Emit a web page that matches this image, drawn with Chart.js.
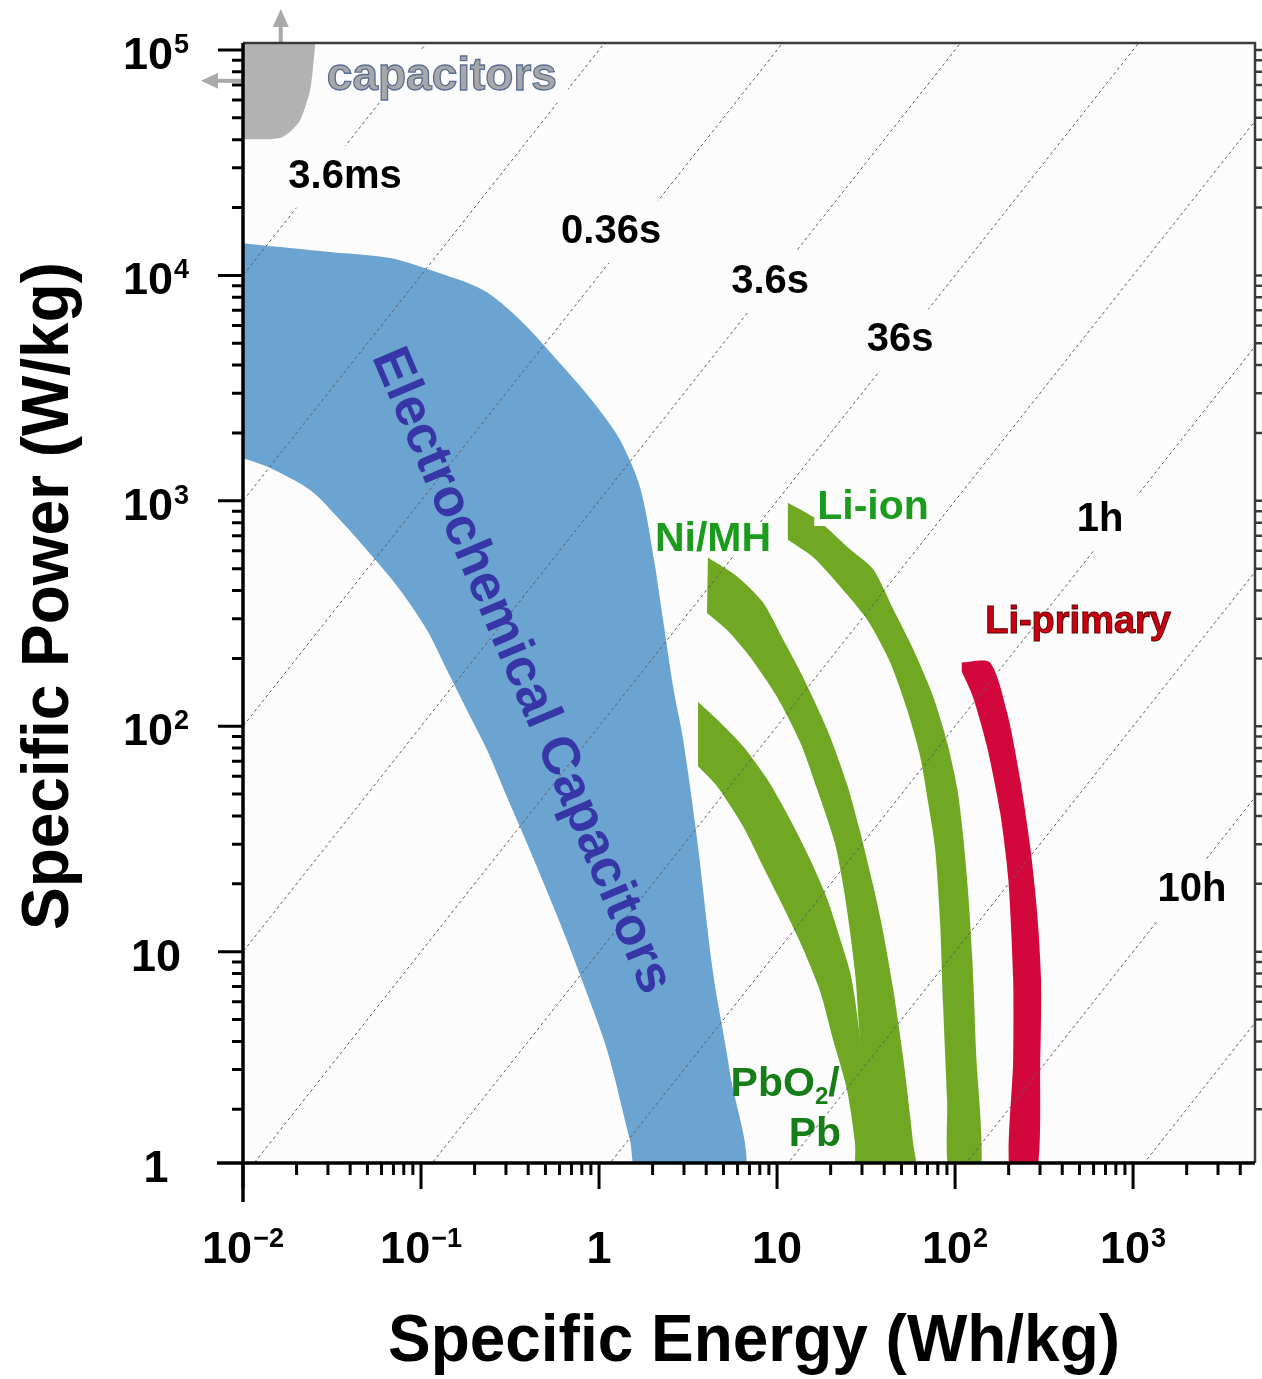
<!DOCTYPE html>
<html>
<head>
<meta charset="utf-8">
<script src="https://cdn.jsdelivr.net/npm/chart.js@4.4.1/dist/chart.umd.min.js"></script>
<style>
html,body{margin:0;padding:0;background:#ffffff;}
#wrap{width:1262px;height:1379px;position:relative;}
</style>
</head>
<body>
<div id="wrap"><canvas id="c"></canvas></div>
<script>
// ---------- axis ranges and ticks ----------
const xMin = 0.01, xMax = 4840;
const yMin = 1.155, yMax = 107400;
const xTickValues = [0.01, 0.1, 1, 10, 100, 1000];
const xTickBase   = ['10', '10', '1', '10', '10', '10'];
const xTickExp    = ['\u22122', '\u22121', '', '', '2', '3'];
const yTickValues = [1, 10, 100, 1000, 10000, 100000];
const yTickBase   = ['1', '10', '10', '10', '10', '10'];
const yTickExp    = ['', '', '2', '3', '4', '5'];
const xTitle = 'Specific Energy (Wh/kg)';
const yTitle = 'Specific Power (W/kg)';

// ---------- constant discharge-time lines (hours) ----------
const timeLinesHours = [1e-6, 1e-5, 1e-4, 1e-3, 1e-2, 1e-1, 1, 10, 100, 1000];
const durationLabels = ['3.6ms', '0.36s', '3.6s', '36s', '1h', '10h'];
const durationLabelE = [0.0374, 1.17, 9.14, 49.1, 653, 2140];
const durationLabelP = [27400, 15600, 9350, 5160, 822, 18.8];

// ---------- regions (outline points: specific energy Wh/kg, specific power W/kg) ----------
const capE = [0.01, 0.0247, 0.0247, 0.0238, 0.0223, 0.0209, 0.0188, 0.0166, 0.0142, 0.01];
const capP = [120000, 120000, 83000, 66000, 55500, 48700, 44000, 41000, 40200, 40200];

const ecE = [0.01, 0.0161, 0.0308, 0.067, 0.1125, 0.223, 0.36, 0.628, 0.975, 1.312, 1.698, 2.009, 2.29, 2.61, 2.97, 3.56, 4.37, 5.44, 6.36,
             1.70, 1.49, 1.11, 0.813, 0.604, 0.409, 0.304, 0.235, 0.181, 0.140, 0.108, 0.0762, 0.0537, 0.0351, 0.0238, 0.0142, 0.01];
const ecP = [13900, 13370, 12700, 11940, 10570, 8610, 6340, 3930, 2610, 1860, 1151, 586, 296, 149, 86.9, 31.3, 8.04, 2.89, 1.0,
             1.0, 1.46, 3.66, 7.26, 13.4, 28.2, 48.5, 78.4, 118, 177, 267, 402, 563, 822, 1117, 1400, 1549];

const nimhE = [4.09, 5.96, 8.34, 10.8, 14.0, 19.1, 24.7, 29.2, 34.6, 39.4, 44.9, 51.0, 58.1, 59.6,
               33.3, 31.2, 29.2, 27.4, 24.1, 21.2, 16.8, 13.5, 10.0, 7.05, 5.24, 4.04];
const nimhP = [560, 462, 354, 243, 165, 97, 55.5, 34.4, 19.8, 12.3, 6.84, 3.43, 1.42, 1.0,
               1.0, 2.21, 4.09, 8.15, 17.5, 30.0, 52.5, 84.8, 135, 203, 267, 318];

const pbE = [3.60, 4.79, 6.44, 8.79, 11.8, 15.3, 19.1, 22.6, 25.7, 27.4, 31.2, 35.6,
             28.1, 27.4, 24.7, 20.6, 17.5, 14.0, 10.8, 8.34, 6.44, 4.60, 3.60];
const pbP = [128, 104, 81.5, 58.3, 38.8, 25.8, 17.2, 11.4, 8.15, 6.17, 2.71, 1.0,
             1.0, 1.42, 2.45, 4.09, 6.63, 10.3, 15.9, 23.9, 36.0, 54.2, 66.4];

const liionE = [11.5, 16.8, 25.7, 34.6, 44.9, 58.1, 75.2, 90.2, 103, 111, 118, 125, 131, 138,
                93.8, 90.2, 85.7, 82.4, 77.3, 70.5, 63.6, 53.7, 43.2, 32.1, 22.6, 15.9, 11.5];
const liionP = [980, 825, 610, 498, 331, 220, 136, 85.0, 52.6, 32.6, 19.0, 9.31, 3.69, 1.0,
                1.0, 2.21, 5.74, 13.5, 28.5, 46.1, 73.8, 119, 192, 297, 417, 563, 672];

const liprimE = [109, 157, 196, 232, 264, 289, 304, 301, 285, 204, 212, 212, 199, 179, 151, 126, 109];
const liprimP = [192, 192, 115, 58.3, 29.4, 15.0, 7.57, 3.33, 1.0, 1.0, 3.33, 7.57, 21.0, 41.6, 81.5, 135, 175];

// ---------- region labels ----------
const capLabel = 'capacitors';       const capLabelE = 0.131;  const capLabelP = 75900;
const capArrowE = 0.0163;            const capArrowP = 73000;
const ecLabel = 'Electrochemical Capacitors'; const ecLabelE = 0.365; const ecLabelP = 176;
const nimhLabel = 'Ni/MH';           const nimhLabelE = 4.37;  const nimhLabelP = 670;
const liionLabel = 'Li-ion';         const liionLabelE = 34.6; const liionLabelP = 929;
const liprimLabel = 'Li-primary';    const liprimLabelE = 491; const liprimLabelP = 290;
const pbLabel1E = 11.1, pbLabel1P = 2.56;
const pbLabel2 = 'Pb';               const pbLabel2E = 16.3;   const pbLabel2P = 1.54;

// ---------- styles ----------
const FONT = '"Liberation Sans", Arial, Helvetica, sans-serif';
const PLOT_BG = '#fcfcfc';
const COL_CAP = '#b3b3b3', COL_EC = '#6ba4d1', COL_GREEN = '#70a823', COL_RED = '#d2083c';

function pts(E, P) { return E.map((e, i) => ({x: e, y: P[i]})); }
function region(E, P, color, tension) {
  return {data: pts(E, P), backgroundColor: color, borderColor: 'transparent', borderWidth: 0,
          pointRadius: 0, fill: 'shape', tension: tension, order: 1};
}

const datasets = [];
timeLinesHours.forEach(t => {
  datasets.push({data: [{x: 1e-3, y: 1e-3 / t}, {x: 1e4, y: 1e4 / t}], borderColor: '#5e5e5e', borderWidth: 1,
                 borderDash: [3, 3], pointRadius: 0, fill: false, tension: 0, order: 0});
});
datasets.push(region(capE, capP, COL_CAP, 0.2));
datasets.push(region(ecE, ecP, COL_EC, 0.3));
datasets.push(region(pbE, pbP, COL_GREEN, 0.25));
datasets.push(region(nimhE, nimhP, COL_GREEN, 0.25));
datasets.push(region(liionE, liionP, COL_GREEN, 0.25));
datasets.push(region(liprimE, liprimP, COL_RED, 0.25));

function logTicks(min, max) {
  const major = [], minor = [];
  for (let k = Math.floor(Math.log10(min)); k <= Math.ceil(Math.log10(max)); k++) {
    const b = Math.pow(10, k);
    for (let m = 1; m < 10; m++) {
      const v = m * b;
      if (v < min * 0.999 || v > max * 1.001) continue;
      (m === 1 ? major : minor).push(v);
    }
  }
  return {major, minor};
}

function supLabel(ctx, base, exp, cx, baseline, baseFont, expFont) {
  ctx.font = baseFont; const wb = ctx.measureText(base).width;
  ctx.font = expFont; const we = exp ? ctx.measureText(exp).width + 1 : 0;
  const x0 = cx - (wb + we) / 2;
  ctx.textAlign = 'left'; ctx.textBaseline = 'alphabetic';
  ctx.font = baseFont; ctx.fillText(base, x0, baseline);
  if (exp) { ctx.font = expFont; ctx.fillText(exp, x0 + wb + 1, baseline - 16); }
}

function boxedText(ctx, txt, px, py, padX, padY, h) {
  const w = ctx.measureText(txt).width;
  const fs = ctx.fillStyle;
  ctx.fillStyle = PLOT_BG;
  ctx.fillRect(px - w / 2 - padX, py - h / 2 - padY, w + 2 * padX, h + 2 * padY);
  ctx.fillStyle = fs;
  ctx.fillText(txt, px, py);
}

const decor = {
  id: 'decor',
  beforeDraw(chart) {
    const {ctx, chartArea: a} = chart;
    ctx.save();
    ctx.fillStyle = '#ffffff'; ctx.fillRect(0, 0, chart.width, chart.height);
    ctx.fillStyle = PLOT_BG; ctx.fillRect(a.left, a.top, a.right - a.left, a.bottom - a.top);
    ctx.restore();
  },
  afterDatasetsDraw(chart) {
    const {ctx, chartArea: a} = chart;
    const x = chart.scales.x, y = chart.scales.y;
    ctx.save();
    // arrows of the capacitors region
    ctx.fillStyle = '#a9a9a9'; ctx.strokeStyle = '#a9a9a9'; ctx.lineWidth = 4;
    const ax = x.getPixelForValue(capArrowE);
    ctx.beginPath(); ctx.moveTo(ax, a.top); ctx.lineTo(ax, a.top - 18); ctx.stroke();
    ctx.beginPath(); ctx.moveTo(ax, a.top - 34); ctx.lineTo(ax - 8, a.top - 16); ctx.lineTo(ax + 8, a.top - 16); ctx.closePath(); ctx.fill();
    const ay = y.getPixelForValue(capArrowP);
    ctx.beginPath(); ctx.moveTo(a.left, ay); ctx.lineTo(a.left - 27, ay); ctx.stroke();
    ctx.beginPath(); ctx.moveTo(a.left - 42, ay); ctx.lineTo(a.left - 25, ay - 8); ctx.lineTo(a.left - 25, ay + 8); ctx.closePath(); ctx.fill();

    // duration labels
    ctx.textAlign = 'center'; ctx.textBaseline = 'middle';
    ctx.font = 'bold 40px ' + FONT; ctx.fillStyle = '#000000';
    durationLabels.forEach((t, i) => {
      boxedText(ctx, t, x.getPixelForValue(durationLabelE[i]), y.getPixelForValue(durationLabelP[i]), 14, 16, 30);
    });

    // capacitors label
    ctx.font = 'bold 46px ' + FONT;
    let px = x.getPixelForValue(capLabelE), py = y.getPixelForValue(capLabelP);
    ctx.fillStyle = PLOT_BG;
    ctx.fillRect(px - 126, py - 26, 252, 52);
    ctx.fillStyle = '#a8a8a8'; ctx.strokeStyle = '#5a6f96'; ctx.lineWidth = 1.3;
    ctx.fillText(capLabel, px, py, 240);
    ctx.strokeText(capLabel, px, py, 240);

    // electrochemical capacitors (rotated)
    ctx.save();
    ctx.translate(x.getPixelForValue(ecLabelE), y.getPixelForValue(ecLabelP));
    ctx.rotate(67 * Math.PI / 180);
    ctx.font = 'bold 53px ' + FONT; ctx.fillStyle = '#3636a6';
    ctx.fillText(ecLabel, 0, 0, 712);
    ctx.restore();

    // green labels
    ctx.font = 'bold 41px ' + FONT; ctx.fillStyle = '#1c9c1c';
    boxedText(ctx, nimhLabel, x.getPixelForValue(nimhLabelE), y.getPixelForValue(nimhLabelP), 2, 2, 30);
    boxedText(ctx, liionLabel, x.getPixelForValue(liionLabelE), y.getPixelForValue(liionLabelP), 3, 3, 30);

    // PbO2/ Pb
    ctx.fillStyle = '#167d18';
    px = x.getPixelForValue(pbLabel1E); py = y.getPixelForValue(pbLabel1P);
    ctx.font = 'bold 41px ' + FONT; const w1 = ctx.measureText('PbO').width;
    ctx.font = 'bold 24px ' + FONT; const w2 = ctx.measureText('2').width;
    ctx.font = 'bold 41px ' + FONT; const w3 = ctx.measureText('/').width;
    const x0 = px - (w1 + w2 + w3) / 2;
    ctx.textAlign = 'left';
    ctx.fillText('PbO', x0, py);
    ctx.font = 'bold 24px ' + FONT; ctx.fillText('2', x0 + w1, py + 12);
    ctx.font = 'bold 41px ' + FONT; ctx.fillText('/', x0 + w1 + w2, py);
    ctx.textAlign = 'center';
    ctx.fillText(pbLabel2, x.getPixelForValue(pbLabel2E), y.getPixelForValue(pbLabel2P));

    // Li-primary
    ctx.font = 'bold 38px ' + FONT;
    px = x.getPixelForValue(liprimLabelE); py = y.getPixelForValue(liprimLabelP);
    ctx.fillStyle = '#cc0010'; ctx.strokeStyle = '#5a0000'; ctx.lineWidth = 1;
    ctx.fillText(liprimLabel, px, py);
    ctx.strokeText(liprimLabel, px, py);
    ctx.restore();
  },
  afterDraw(chart) {
    const {ctx, chartArea: a} = chart;
    const x = chart.scales.x, y = chart.scales.y;
    ctx.save();
    // frame top/right
    ctx.strokeStyle = '#3a3a3a'; ctx.lineWidth = 2.5;
    ctx.beginPath(); ctx.moveTo(a.left, a.top); ctx.lineTo(a.right, a.top); ctx.lineTo(a.right, a.bottom); ctx.stroke();
    // main axes
    ctx.strokeStyle = '#000000'; ctx.lineWidth = 3.5;
    ctx.beginPath(); ctx.moveTo(a.left, a.top); ctx.lineTo(a.left, a.bottom + 39); ctx.stroke();
    ctx.beginPath(); ctx.moveTo(a.left - 26, a.bottom); ctx.lineTo(a.right, a.bottom); ctx.stroke();
    // ticks
    ctx.lineWidth = 3;
    const xt = logTicks(xMin, xMax), yt = logTicks(yMin, yMax);
    ctx.beginPath();
    xt.major.forEach(v => { const p = x.getPixelForValue(v); ctx.moveTo(p, a.bottom); ctx.lineTo(p, a.bottom + 26); });
    xt.minor.forEach(v => { const p = x.getPixelForValue(v); ctx.moveTo(p, a.bottom); ctx.lineTo(p, a.bottom + 12); });
    yt.major.forEach(v => { const p = y.getPixelForValue(v); ctx.moveTo(a.left, p); ctx.lineTo(a.left - 25, p); });
    yt.minor.forEach(v => { const p = y.getPixelForValue(v); ctx.moveTo(a.left, p); ctx.lineTo(a.left - 11, p); });
    ctx.stroke();
    ctx.strokeStyle = '#3a3a3a'; ctx.lineWidth = 2.5;
    ctx.beginPath();
    yt.major.forEach(v => { const p = y.getPixelForValue(v); ctx.moveTo(a.right, p); ctx.lineTo(a.right + 12, p); });
    yt.minor.forEach(v => { const p = y.getPixelForValue(v); ctx.moveTo(a.right, p); ctx.lineTo(a.right + 8, p); });
    ctx.stroke();

    // tick labels
    ctx.fillStyle = '#000000';
    const bf = 'bold 45px ' + FONT, ef = 'bold 27px ' + FONT;
    xTickValues.forEach((v, i) => {
      supLabel(ctx, xTickBase[i], xTickExp[i], x.getPixelForValue(v), a.bottom + 100, bf, ef);
    });
    yTickValues.forEach((v, i) => {
      const p = Math.min(Math.max(y.getPixelForValue(v), a.top), a.bottom);
      supLabel(ctx, yTickBase[i], yTickExp[i], 156, p + 19, bf, ef);
    });

    // axis titles
    ctx.font = 'bold 66px ' + FONT; ctx.textAlign = 'center'; ctx.textBaseline = 'alphabetic';
    ctx.fillText(xTitle, (a.left + a.right) / 2 + 5, a.bottom + 198, 732);
    ctx.save();
    ctx.translate(68, (a.top + a.bottom) / 2 - 7);
    ctx.rotate(-Math.PI / 2);
    ctx.fillText(yTitle, 0, 0, 668);
    ctx.restore();
    ctx.restore();
  }
};

Chart.defaults.font.family = FONT;
new Chart(document.getElementById('c'), {
  type: 'line',
  data: {datasets: datasets},
  options: {
    responsive: true,
    maintainAspectRatio: false,
    animation: false,
    events: [],
    layout: {padding: {left: 243, top: 43, right: 7, bottom: 216}},
    plugins: {legend: {display: false}, tooltip: {enabled: false}},
    scales: {
      x: {type: 'logarithmic', min: xMin, max: xMax, display: false},
      y: {type: 'logarithmic', min: yMin, max: yMax, display: false}
    }
  },
  plugins: [decor]
});
</script>
</body>
</html>
